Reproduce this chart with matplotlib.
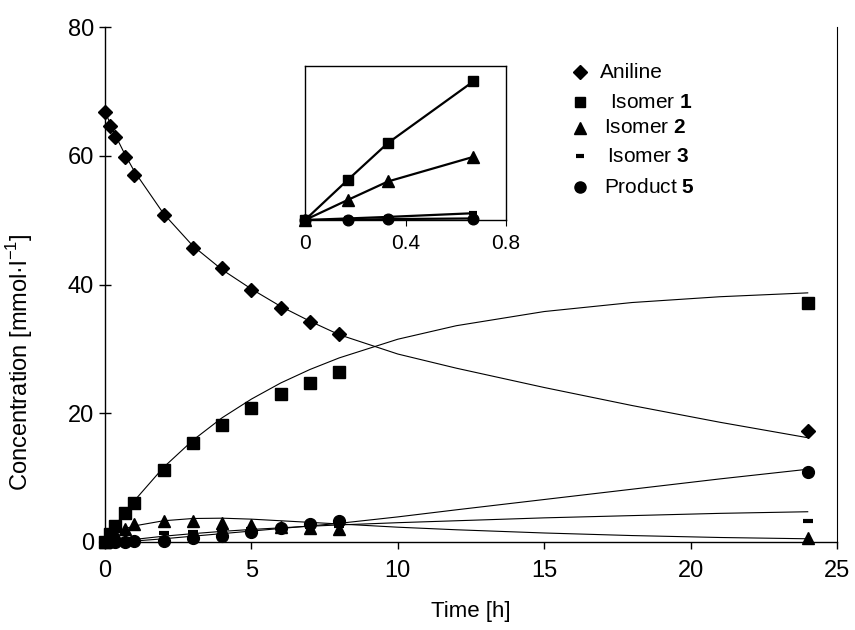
import matplotlib
matplotlib.use('Agg')
import matplotlib.pyplot as plt

plt.rcParams['font.family'] = ['Liberation Sans', 'DejaVu Sans']
plt.rcParams['mathtext.fontset'] = 'custom'
plt.rcParams['mathtext.rm'] = 'Liberation Sans'
plt.rcParams['mathtext.bf'] = 'Liberation Sans:bold'

# measured concentrations [mmol/l]
t = [0, 0.17, 0.33, 0.67, 1, 2, 3, 4, 5, 6, 7, 8, 24]
aniline = [66.8, 64.6, 62.9, 59.8, 57.0, 50.8, 45.6, 42.5, 39.2, 36.4, 34.2, 32.3, 17.2]
isomer1 = [0, 1.3, 2.5, 4.5, 6.0, 11.2, 15.4, 18.2, 20.8, 23.0, 24.7, 26.4, 37.2]
isomer2 = [0, 0.66, 1.26, 2.06, 2.8, 3.3, 3.2, 2.9, 2.7, 2.4, 2.1, 2.0, 0.6]
isomer3 = [0, 0.05, 0.1, 0.22, 0.4, 1.4, 1.5, 1.8, 2.0, 2.2, 2.4, 2.5, 3.3]
product5 = [0, 0, 0.03, 0.03, 0.1, 0.15, 0.6, 1.0, 1.5, 2.1, 2.8, 3.3, 10.8]

# model curves
tfit = [0, 0.17, 0.33, 0.67, 1, 2, 3, 4, 5, 6, 7, 8, 10, 12, 15, 18, 21, 24]
aniline_fit = [67, 65, 63.4, 60.3, 57.6, 51, 46, 42.3, 39.3, 36.6, 34.3, 32.2, 29.2, 27, 24, 21.2, 18.6, 16.2]
isomer1_fit = [0, 1.3, 2.5, 4.5, 6.4, 11.6, 15.8, 19.3, 22.2, 24.7, 26.8, 28.6, 31.5, 33.6, 35.8, 37.2, 38.1, 38.7]
isomer2_fit = [0, 0.65, 1.25, 2.05, 2.5, 3.3, 3.65, 3.7, 3.55, 3.3, 3.05, 2.8, 2.3, 1.9, 1.4, 1.0, 0.7, 0.5]
isomer3_fit = [0, 0.05, 0.1, 0.22, 0.4, 0.9, 1.3, 1.65, 1.95, 2.2, 2.45, 2.65, 3.0, 3.3, 3.75, 4.1, 4.45, 4.7]
product5_fit = [0, 0.0, 0.03, 0.05, 0.15, 0.5, 0.9, 1.3, 1.7, 2.1, 2.5, 2.9, 3.9, 5.0, 6.6, 8.2, 9.8, 11.3]

series = [
    ('Aniline', aniline, aniline_fit, dict(marker='D', ms=7.5)),
    ('Isomer $\\mathbf{1}$', isomer1, isomer1_fit, dict(marker='s', ms=8)),
    ('Isomer $\\mathbf{2}$', isomer2, isomer2_fit, dict(marker='^', ms=9)),
    ('Isomer $\\mathbf{3}$', isomer3, isomer3_fit, dict(marker='_', ms=7, mew=3)),
    ('Product $\\mathbf{5}$', product5, product5_fit, dict(marker='o', ms=8.5)),
]

fig = plt.figure(figsize=(8.55, 6.3), dpi=100)
ax = fig.add_axes([105/855, 1 - 542/630, 732/855, 515/630])

for name, y, yfit, st in series:
    ax.plot(tfit, yfit, color='black', lw=0.8, zorder=2)
    ax.plot(t, y, ls='none', color='black', clip_on=False, zorder=3, **st)

ax.set_xlim(0, 25)
ax.set_ylim(0, 80)
ax.set_xticks([0, 5, 10, 15, 20, 25])
ax.set_yticks([0, 20, 40, 60, 80])
ax.spines['top'].set_visible(False)
ax.spines['right'].set_linewidth(0.8)
ax.spines['left'].set_linewidth(1.0)
ax.spines['bottom'].set_linewidth(1.0)
ax.tick_params(axis='y', direction='inout', length=8, width=1, labelsize=17, pad=4)
ax.tick_params(axis='x', direction='out', length=5, width=1, labelsize=17, pad=8)
ax.set_xlabel('Time [h]', fontsize=16, labelpad=14)
ax.set_ylabel('Concentration [mmol·l$^{-1}$]', fontsize=17)
ax.yaxis.set_label_coords(-0.095, 0.35)

# legend drawn by hand
leg = [
    ('D', 7, 0, 72, 'Aniline', 600),
    ('s', 7, 0, 102, 'Isomer $\\mathbf{1}$', 610),
    ('^', 8.5, 0, 128, 'Isomer $\\mathbf{2}$', 604),
    ('_', 6, 3, 156, 'Isomer $\\mathbf{3}$', 607),
    ('o', 8, 0, 187, 'Product $\\mathbf{5}$', 604),
]
for m, ms, mew, py, label, tx in leg:
    kw = dict(mew=mew) if mew else {}
    fig.lines.append(plt.Line2D([580/855], [1 - py/630], marker=m, ms=ms, color='black',
                                ls='none', transform=fig.transFigure, **kw))
    fig.text(tx/855, 1 - py/630, label, fontsize=15, va='center', ha='left')

# inset: first 40 minutes
ins = fig.add_axes([305/855, 1 - 220/630, 201/855, 154/630])
n = 4
for name, y, yfit, st in series[1:]:
    ins.plot(tfit[:n], yfit[:n], color='black', lw=1.6, zorder=2)
    st2 = dict(st)
    st2['ms'] = st['ms'] * 0.9
    ins.plot(t[:n], y[:n], ls='none', color='black', clip_on=False, zorder=3, **st2)
ins.set_xlim(0, 0.8)
ins.set_ylim(0, 5)
ins.set_xticks([0, 0.4, 0.8])
ins.set_xticklabels(['0', '0.4', '0.8'])
ins.set_yticks([])
for s in ins.spines.values():
    s.set_linewidth(1.0)
ins.tick_params(axis='x', direction='out', length=4, labelsize=15, pad=6)

fig.savefig('out.png', dpi=100)
